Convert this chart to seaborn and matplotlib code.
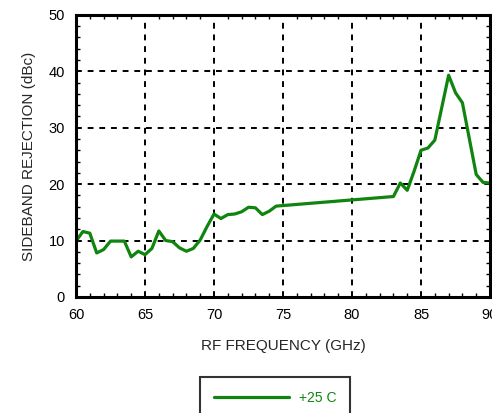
import numpy as np
import pandas as pd
import matplotlib
matplotlib.use("Agg")
import matplotlib.pyplot as plt
from matplotlib.ticker import MultipleLocator
import seaborn as sns

# Daten
freq_ghz = [60, 60.5, 61, 61.5, 62, 62.5, 63, 63.5, 64, 64.5, 65, 65.5, 66, 66.5,
            67, 67.5, 68, 68.5, 69, 69.5, 70, 70.5, 71, 71.5, 72, 72.5, 73, 73.5,
            74, 74.5, 75, 83, 83.5, 84, 84.5, 85, 85.5, 86, 87, 87.5, 88, 89,
            89.5, 90]
rejection_dbc = [9.9, 11.6, 11.3, 7.8, 8.4, 9.9, 9.9, 9.9, 7.1, 8.1, 7.5, 8.6, 11.7, 10.0,
                 9.8, 8.7, 8.1, 8.6, 10.1, 12.5, 14.7, 13.9, 14.6, 14.7, 15.1, 15.9, 15.8, 14.6,
                 15.2, 16.1, 16.2, 17.8, 20.2, 18.9, 22.3, 26.0, 26.4, 27.8, 39.3, 36.2, 34.4, 21.7,
                 20.3, 20.2]
series_label = "+25 C"
line_color = "#0f850f"

df = pd.DataFrame({"freq": freq_ghz, "rej": rejection_dbc})

sns.set_style("ticks")
plt.rcParams['font.family'] = ['Liberation Sans', 'DejaVu Sans']

fig = plt.figure(figsize=(4.92, 4.13), dpi=100)
ax = fig.add_axes([0.1545, 0.281, 0.8415, 0.683])

sns.lineplot(data=df, x="freq", y="rej", ax=ax, color=line_color, linewidth=2.3,
             label=series_label, legend=False)

ax.set_xlim(60, 90)
ax.set_ylim(0, 50)
ax.xaxis.set_major_locator(MultipleLocator(5))
ax.xaxis.set_minor_locator(MultipleLocator(1))
ax.yaxis.set_major_locator(MultipleLocator(10))
ax.yaxis.set_minor_locator(MultipleLocator(2))
ax.tick_params(which="both", direction="in", top=True, right=True, labelsize=10.5, colors="black")
ax.tick_params(which="major", length=0, pad=8)
ax.tick_params(which="minor", length=3, width=1)
ax.grid(True, which="major", color="black", linestyle=(0, (3, 3)), linewidth=1.4)
for sp in ax.spines.values():
    sp.set_linewidth(2.2)
    sp.set_color("black")

ax.set_xlabel("RF FREQUENCY (GHz)", fontsize=11, labelpad=12)
ax.set_ylabel("SIDEBAND REJECTION (dBc)", fontsize=11, labelpad=9)

handles, labels = ax.get_legend_handles_labels()
leg = fig.legend(handles, labels, loc="upper center", bbox_to_anchor=(0.559, 0.087),
                 frameon=True, fancybox=False, fontsize=10, handlelength=5.4,
                 handletextpad=0.7, borderpad=1.0, borderaxespad=0)
leg.get_frame().set_edgecolor("black")
leg.get_frame().set_linewidth(1.5)
for t in leg.get_texts():
    t.set_color(line_color)

fig.savefig("out.png", dpi=100)
